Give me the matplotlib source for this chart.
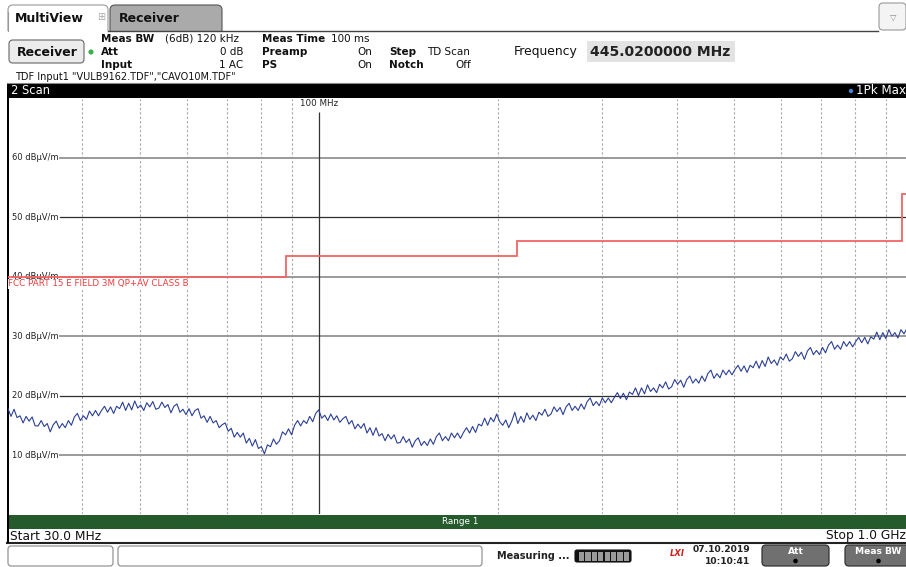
import numpy as np
import matplotlib
matplotlib.use("Agg")
import matplotlib.pyplot as plt
from matplotlib.patches import FancyBboxPatch, Rectangle, Circle
from matplotlib.transforms import blended_transform_factory

plt.rcParams['font.family'] = ['DejaVu Sans']

# ---------------- data ----------------
start_mhz = 30.0
stop_mhz = 1000.0
y_ticks = [10, 20, 30, 40, 50, 60]
y_tick_labels = ["10 dBµV/m", "20 dBµV/m", "30 dBµV/m", "40 dBµV/m", "50 dBµV/m", "60 dBµV/m"]
minor_grid_mhz = [40, 50, 60, 70, 80, 90, 200, 300, 400, 500, 600, 700, 800, 900]
major_grid_mhz = [100]

limit_edges = [30, 88, 216, 960, 1000]
limit_levels = [40, 43.5, 46, 54]
limit_name = "FCC PART 15 E FIELD 3M QP+AV CLASS B"

trace_levels = [
17.8, 16.5, 17.7, 16.3, 16.6, 15.4, 16.5, 15.7, 16.4, 14.9,
14.9, 15.8, 14.8, 15.3, 13.9, 15.1, 15.7, 14.5, 15.3, 14.6,
15.8, 15.0, 16.4, 17.0, 15.8, 16.6, 16.0, 17.4, 16.6, 17.5,
16.6, 17.5, 18.2, 17.2, 18.1, 17.0, 18.2, 17.8, 18.9, 17.5,
18.7, 17.6, 19.1, 17.9, 18.4, 17.5, 18.8, 18.1, 19.0, 17.7,
17.9, 18.9, 18.0, 18.5, 17.1, 18.2, 18.6, 17.2, 17.7, 16.8,
17.8, 16.6, 17.5, 17.8, 16.2, 16.6, 15.5, 16.5, 15.4, 15.8,
14.6, 15.1, 15.4, 14.0, 14.5, 13.0, 13.8, 13.0, 13.7, 12.0,
12.8, 11.5, 12.6, 11.1, 11.4, 10.2, 11.7, 11.4, 12.7, 11.8,
12.4, 13.9, 13.4, 14.4, 13.4, 15.0, 15.8, 14.9, 15.8, 15.3,
16.5, 15.6, 17.0, 17.6, 16.2, 16.7, 15.8, 16.9, 15.9, 16.6,
15.5, 16.1, 16.5, 15.2, 15.8, 14.4, 15.2, 14.5, 15.3, 13.7,
14.6, 13.3, 14.6, 13.2, 13.6, 12.4, 13.5, 12.7, 13.4, 12.0,
12.1, 13.1, 12.1, 12.7, 11.3, 12.4, 12.9, 11.6, 12.3, 11.6,
12.7, 11.8, 13.1, 13.7, 12.4, 13.1, 12.4, 13.7, 12.9, 13.7,
12.8, 13.8, 14.6, 13.7, 14.8, 13.8, 15.2, 14.9, 16.2, 15.0,
16.3, 15.6, 16.9, 15.6, 15.0, 15.9, 14.6, 15.7, 17.2, 15.3,
16.5, 15.5, 17.1, 16.0, 16.7, 15.8, 17.2, 16.7, 17.7, 16.5,
16.9, 18.1, 17.3, 18.0, 16.8, 18.1, 18.7, 17.5, 18.2, 17.5,
18.6, 17.7, 19.0, 19.6, 18.3, 19.0, 18.3, 19.6, 18.8, 19.6,
18.8, 19.7, 20.5, 19.5, 20.4, 19.3, 20.6, 20.2, 21.3, 20.0,
21.3, 20.3, 21.8, 20.7, 21.3, 20.5, 21.9, 21.3, 22.3, 21.1,
21.5, 22.7, 21.9, 22.6, 21.4, 22.7, 23.3, 22.1, 22.8, 22.1,
23.3, 22.4, 23.7, 24.3, 22.9, 23.7, 23.0, 24.3, 23.5, 24.3,
23.5, 24.4, 25.1, 24.1, 25.0, 23.9, 25.1, 24.7, 25.8, 24.6,
25.9, 24.9, 26.5, 25.4, 26.0, 25.1, 26.5, 26.0, 27.0, 25.8,
26.2, 27.4, 26.6, 27.3, 26.1, 27.5, 28.1, 26.9, 27.6, 26.9,
28.1, 27.2, 28.5, 29.1, 27.8, 28.5, 27.8, 29.1, 28.3, 29.1,
28.2, 29.1, 29.8, 28.9, 29.8, 28.7, 29.9, 29.5, 30.7, 29.4,
30.6, 29.6, 31.1, 30.0, 30.6, 29.7, 31.1, 30.4, 31.3, 29.9, 30.4,
]
trace_freqs = np.geomspace(start_mhz, stop_mhz, len(trace_levels))

# ---------------- figure ----------------
W, H = 906, 567
fig = plt.figure(figsize=(W / 100, H / 100), dpi=100)
fig.patch.set_facecolor("white")

ov = fig.add_axes([0, 0, 1, 1], zorder=0)
ov.set_xlim(0, W)
ov.set_ylim(H, 0)
ov.axis("off")

def rbox(x0, y0, x1, y1, fc, ec, r=4, lw=0.8, z=1):
    p = FancyBboxPatch((x0 + r, y0 + r), (x1 - x0) - 2 * r, (y1 - y0) - 2 * r,
                       boxstyle=f"round,pad={r}", fc=fc, ec=ec, lw=lw, zorder=z)
    ov.add_patch(p)

# tabs
rbox(8, 5, 108, 36, "white", "#9a9a9a", r=5, z=1)
rbox(110, 5, 222, 36, "#aaaaaa", "#555555", r=5, z=1)
ov.add_patch(Rectangle((0, 30.5), W, 10, fc="white", ec="none", zorder=2))
ov.plot([108, 878], [30.5, 30.5], color="#444444", lw=1.0, zorder=3)
ov.plot([8, 8], [12, 30.5], color="#9a9a9a", lw=0.8, zorder=3)
ov.text(15, 18, "MultiView", fontsize=9, fontweight="bold", va="center", ha="left", color="#111111", zorder=4)
ov.text(101, 17, "⊞", fontsize=7, va="center", ha="center", color="#aaaaaa", zorder=4)
ov.text(119, 19, "Receiver", fontsize=9, fontweight="bold", va="center", ha="left", color="#111111", zorder=4)
rbox(879, 3, 906, 30, "#f4f4f4", "#999999", r=4, z=4)
ov.text(893, 17, "▽", fontsize=6, va="center", ha="center", color="#888888", zorder=5)

# header
rbox(9, 40, 84, 63, "#ececec", "#777777", r=4, lw=0.9, z=3)
ov.text(47, 52, "Receiver", fontsize=9, fontweight="bold", va="center", ha="center", color="#111111", zorder=4)
ov.add_patch(Circle((91, 52), 2.6, fc="#3cb04a", ec="none", zorder=4))
hf = 7.5
rows = [38.5, 52, 65]
for y, lab in zip(rows, ["Meas BW", "Att", "Input"]):
    ov.text(101, y, lab, fontsize=hf, fontweight="bold", va="center", ha="left", color="#111111", zorder=4)
ov.text(165, rows[0], "(6dB) 120 kHz", fontsize=hf, va="center", ha="left", color="#111111", zorder=4)
ov.text(243, rows[1], "0 dB", fontsize=hf, va="center", ha="right", color="#111111", zorder=4)
ov.text(243, rows[2], "1 AC", fontsize=hf, va="center", ha="right", color="#111111", zorder=4)
for y, lab in zip(rows, ["Meas Time", "Preamp", "PS"]):
    ov.text(262, y, lab, fontsize=hf, fontweight="bold", va="center", ha="left", color="#111111", zorder=4)
ov.text(331, rows[0], "100 ms", fontsize=hf, va="center", ha="left", color="#111111", zorder=4)
ov.text(372, rows[1], "On", fontsize=hf, va="center", ha="right", color="#111111", zorder=4)
ov.text(372, rows[2], "On", fontsize=hf, va="center", ha="right", color="#111111", zorder=4)
ov.text(389, rows[1], "Step", fontsize=hf, fontweight="bold", va="center", ha="left", color="#111111", zorder=4)
ov.text(389, rows[2], "Notch", fontsize=hf, fontweight="bold", va="center", ha="left", color="#111111", zorder=4)
ov.text(427, rows[1], "TD Scan", fontsize=hf, va="center", ha="left", color="#111111", zorder=4)
ov.text(471, rows[2], "Off", fontsize=hf, va="center", ha="right", color="#111111", zorder=4)
ov.text(514, 52, "Frequency", fontsize=8.9, va="center", ha="left", color="#111111", zorder=4)
ov.add_patch(Rectangle((587, 41), 148, 21, fc="#e3e3e3", ec="none", zorder=3))
ov.text(590, 52, "445.0200000 MHz", fontsize=10, fontweight="bold", va="center", ha="left", color="#222222", zorder=4)
ov.text(15, 77, 'TDF Input1 "VULB9162.TDF","CAVO10M.TDF"', fontsize=7, va="center", ha="left", color="#111111", zorder=4)

# black scan bar
ov.add_patch(Rectangle((7, 84), W - 7, 14, fc="black", ec="none", zorder=3))
ov.plot([7, W], [82.5, 82.5], color="#888888", lw=0.8, zorder=3)
ov.text(11, 91, "2 Scan", fontsize=8.3, va="center", ha="left", color="white", zorder=4)
ov.add_patch(Circle((851, 91), 2.2, fc="#4a7fd8", ec="none", zorder=4))
ov.text(856, 91, "1Pk Max", fontsize=8.6, va="center", ha="left", color="white", zorder=4)

# green range bar
ov.add_patch(Rectangle((9, 515), W - 9, 13.5, fc="#245a2c", ec="none", zorder=3))
ov.text(460, 521.5, "Range 1", fontsize=6.4, va="center", ha="center", color="white", zorder=4)
ov.text(10, 536, "Start 30.0 MHz", fontsize=8.8, va="center", ha="left", color="#111111", zorder=4)
ov.text(905.5, 536, "Stop 1.0 GHz", fontsize=8.8, va="center", ha="right", color="#111111", zorder=4)
ov.plot([7, W], [543, 543], color="#222222", lw=1.5, zorder=3)
# left border of diagram
ov.add_patch(Rectangle((6.5, 84), 2.5, 459, fc="black", ec="none", zorder=5))

# status bar
rbox(8, 546, 113, 566, "white", "#888888", r=3, z=3)
rbox(118, 546, 482, 566, "white", "#888888", r=3, z=3)
ov.text(497, 556, "Measuring ...", fontsize=7, fontweight="bold", va="center", ha="left", color="#222222", zorder=4)
rbox(575, 550, 631, 562, "#111111", "#111111", r=2, z=3)
for i in range(8):
    ov.add_patch(Rectangle((579 + i * 6.4, 551.5), 5.2, 9, fc="#9a9a9a", ec="none", zorder=4))
ov.text(677, 554, "LXI", fontsize=6, fontweight="bold", fontstyle="italic", va="center", ha="center", color="#d42020", zorder=4)
ov.text(750, 549, "07.10.2019", fontsize=6.6, fontweight="bold", va="center", ha="right", color="#222222", zorder=4)
ov.text(750, 561, "10:10:41", fontsize=6.6, fontweight="bold", va="center", ha="right", color="#222222", zorder=4)
for x0, x1, lab in [(762, 829, "Att"), (845, 912, "Meas BW")]:
    rbox(x0, 545, x1, 566, "#707070", "#333333", r=4, lw=0.9, z=3)
    ov.text((x0 + x1) / 2, 551, lab, fontsize=6.6, fontweight="bold", va="center", ha="center", color="white", zorder=4)
    ov.add_patch(Circle(((x0 + x1) / 2, 561), 2.3, fc="black", ec="none", zorder=4))

# ---------------- diagram ----------------
ax_left, ax_right = 8, 913
ax_top, ax_bot = 98.6, 514.4
ax = fig.add_axes([ax_left / W, (H - ax_bot) / H, (ax_right - ax_left) / W, (ax_bot - ax_top) / H], zorder=1)
ax.set_facecolor("none")
ax.set_xscale("log")
ax.set_xlim(start_mhz, stop_mhz)
ax.set_ylim(0, 70)
for s in ax.spines.values():
    s.set_visible(False)
ax.set_xticks([])
ax.set_yticks([])
ax.minorticks_off()

tr = blended_transform_factory(ax.transAxes, ax.transData)
label_frac = (60 - ax_left) / (ax_right - ax_left)
for v, lab in zip(y_ticks, y_tick_labels):
    dark = v in (20, 50)
    ax.axhline(v, xmin=label_frac, xmax=1, color="#2e2e2e" if dark else "#9a9a9a",
               lw=0.9 if dark else 1.4, zorder=2)
    ax.text(4 / (ax_right - ax_left), v, lab, transform=tr, fontsize=6, va="center", ha="left",
            color="#222222", zorder=3)

ax.vlines(minor_grid_mhz, 0, 70, colors="#a8a8a8", linestyles=(0, (2, 2)), lw=0.8, zorder=1)
ax.vlines(major_grid_mhz, 0, 67.7, colors="#333333", lw=0.9, zorder=2)
ax.text(100, 69.1, "100 MHz", fontsize=6.3, va="center", ha="center", color="#222222", zorder=3)

ax.text(30.05, 38.8, limit_name, fontsize=6.3, va="center", ha="left", color="#f03c3c",
        zorder=4, bbox=dict(fc="white", ec="none", pad=0.6))
ax.stairs(limit_levels, limit_edges, baseline=None, color="#f06464", lw=1.3, zorder=5)

ax.plot(trace_freqs, trace_levels, color="#2b3f96", lw=0.8, zorder=6)

fig.savefig("out.png", dpi=100, facecolor="white")
